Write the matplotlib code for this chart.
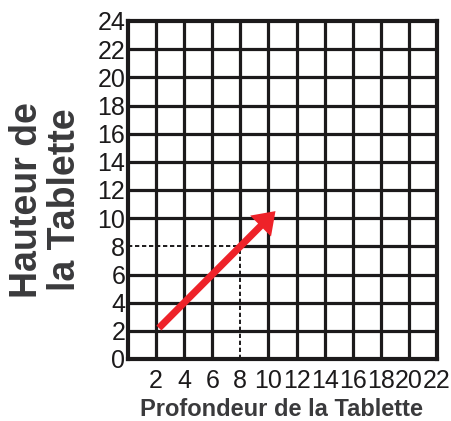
import matplotlib
matplotlib.use("Agg")
import matplotlib.pyplot as plt

# axis ticks
x_ticks = [2, 4, 6, 8, 10, 12, 14, 16, 18, 20, 22]
y_ticks = [0, 2, 4, 6, 8, 10, 12, 14, 16, 18, 20, 22, 24]

# red arrow (start -> end) and dashed guide point
arrow_start = (2.2, 2.2)
arrow_end = (10.5, 10.5)
guide_point = (8, 8)

x_label = "Profondeur de la Tablette"
y_label = "Hauteur de\nla Tablette"

plt.rcParams["font.family"] = ["Liberation Sans", "DejaVu Sans"]

fig = plt.figure(figsize=(4.51, 4.21), dpi=100)
ax = fig.add_axes([128 / 451, 1 - 359 / 421, 309 / 451, 338 / 421])

ink = "#1c1a1b"
xmax, ymax = 22, 24
ax.set_xlim(0, xmax)
ax.set_ylim(0, ymax)
ax.set_xticks(x_ticks)
ax.set_yticks(y_ticks)
ax.set_xticklabels([str(v) for v in x_ticks], fontsize=18, color=ink)
ax.set_yticklabels([str(v) for v in y_ticks], fontsize=18, color=ink)
ax.tick_params(axis="x", length=0, pad=7)
ax.tick_params(axis="y", length=0, pad=2)
for s in ax.spines.values():
    s.set_linewidth(3)
    s.set_color(ink)

# grid drawn by hand: the part under the guide point is dashed instead
gx, gy = guide_point
grid_lw = 2.3
for y in y_ticks[1:-1]:
    x0 = gx if y == gy else 0
    ax.plot([x0, xmax], [y, y], color=ink, lw=grid_lw, solid_capstyle="butt", zorder=1)
for x in x_ticks[:-1]:
    y0 = gy if x == gx else 0
    ax.plot([x, x], [y0, ymax], color=ink, lw=grid_lw, solid_capstyle="butt", zorder=1)

# dashed guide lines
ax.plot([0, gx], [gy, gy], color=ink, lw=1.4, ls=(0, (2.2, 1.4)), zorder=3)
ax.plot([gx, gx], [0, gy], color=ink, lw=1.4, ls=(0, (2.2, 1.4)), zorder=3)

# red arrow
ax.arrow(arrow_start[0], arrow_start[1],
         arrow_end[0] - arrow_start[0], arrow_end[1] - arrow_start[1],
         width=0.5, head_width=2.1, head_length=1.5,
         length_includes_head=True, color="#ee2229", lw=0, zorder=4)

fig.text(281 / 451, 1 - 410 / 421, x_label, ha="center", va="center",
         fontsize=17, fontweight="bold", color="#3a3a3c")
fig.text(46 / 451, 1 - 200 / 421, y_label, ha="center", va="center",
         rotation=90, fontsize=27, fontweight="bold", color="#3a3a3c",
         multialignment="center", linespacing=1.08)

fig.savefig("out.png", dpi=100)
